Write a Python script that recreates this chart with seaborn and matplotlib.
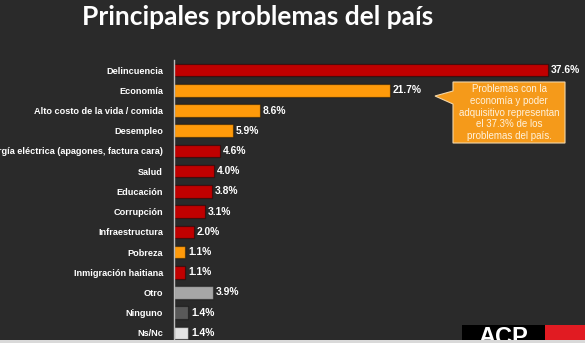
import matplotlib
matplotlib.use("Agg")
import matplotlib.pyplot as plt
import seaborn as sns
import pandas as pd
from matplotlib.patches import Polygon, Rectangle

categorias = [
    "Delincuencia", "Economía", "Alto costo de la vida / comida", "Desempleo",
    "Energía eléctrica (apagones, factura cara)", "Salud", "Educación",
    "Corrupción", "Infraestructura", "Pobreza", "Inmigración haitiana",
    "Otro", "Ninguno", "Ns/Nc",
]
porcentajes = [37.6, 21.7, 8.6, 5.9, 4.6, 4.0, 3.8, 3.1, 2.0, 1.1, 1.1, 3.9, 1.4, 1.4]
grupos = ["seguridad", "economia", "economia", "economia", "servicios", "servicios",
          "servicios", "servicios", "servicios", "economia", "servicios",
          "otro", "ninguno", "nsnc"]
colores_grupo = {
    "seguridad": "#c00000", "servicios": "#c00000", "economia": "#ff9a0a",
    "otro": "#a6a6a6", "ninguno": "#595959", "nsnc": "#e3e3e3",
}
etiquetas = [f"{v:.1f}%" for v in porcentajes]
titulo = "Principales problemas del país"
nota = ("Problemas con la\neconomía y poder\nadquisitivo representan\n"
        "el 37.3% de los\nproblemas del país.")

df = pd.DataFrame({"categoria": categorias, "valor": porcentajes, "grupo": grupos})
colores = [colores_grupo[g] for g in grupos]

W, H = 585, 343
fondo = "#2a2a2a"
sns.set_theme(style="white")
plt.rcParams["font.family"] = ["Liberation Sans", "DejaVu Sans"]

fig = plt.figure(figsize=(W / 100, H / 100), dpi=100, facecolor=fondo)
ax = fig.add_axes([174 / W, 0, 1 - 174 / W, 1 - 60 / H])
ax.set_facecolor(fondo)

sns.barplot(data=df, x="valor", y="categoria", hue="categoria", palette=colores,
            legend=False, width=0.62, orient="h", ax=ax, saturation=1,
            edgecolor="#00000066", linewidth=0.9)

ax.set_xlim(0, (W - 174) / 9.95)
ax.set_ylim(len(categorias) - 0.5, -0.5)
ax.set_xlabel("")
ax.set_ylabel("")
ax.set_xticks([])
for s in ["top", "right", "bottom"]:
    ax.spines[s].set_visible(False)
ax.spines["left"].set_color("#bdbdbd")
ax.spines["left"].set_linewidth(1.0)
ax.tick_params(axis="y", length=0, pad=8)
for lbl in ax.get_yticklabels():
    lbl.set_color("white")
    lbl.set_fontsize(6.6)
    lbl.set_fontweight("bold")

for i, (v, t) in enumerate(zip(porcentajes, etiquetas)):
    ax.text(v + 0.3, i, t, va="center", ha="left", color="white",
            fontsize=7.4, fontweight="bold")

fig.text(258 / W, 1 - 17 / H, titulo, ha="center", va="center", color="white",
         fontsize=19, fontweight="bold", family=["Lato", "DejaVu Sans"])

def fy(y):
    return 1 - y / H

# Cuadro de nota con flecha
pts = [(453, 82), (565, 82), (565, 143), (453, 143), (453, 104), (435, 96), (453, 91)]
fig.patches.append(Polygon([(x / W, fy(y)) for x, y in pts], closed=True,
                           transform=fig.transFigure, facecolor="#f59a1a",
                           edgecolor="#f3d6a8", linewidth=0.8))
fig.text(509 / W, fy(112.5), nota, ha="center", va="center", color="#fff2dc",
         fontsize=7, linespacing=1.2)

# Logotipo
fig.patches.append(Rectangle((462 / W, 0), 83 / W, 18 / H, transform=fig.transFigure,
                             facecolor="black", edgecolor="none"))
fig.patches.append(Rectangle((545 / W, 0), 40 / W, 18 / H, transform=fig.transFigure,
                             facecolor="#e11b22", edgecolor="none"))
fig.text(503 / W, -6 / H, "ACP", ha="center", va="bottom", color="white",
         fontsize=17, fontweight="bold")
fig.patches.append(Rectangle((0, 0), 1, 3 / H, transform=fig.transFigure,
                             facecolor="#d9d9d9", edgecolor="none", zorder=5))

fig.savefig("out.png", dpi=100, facecolor=fondo)
